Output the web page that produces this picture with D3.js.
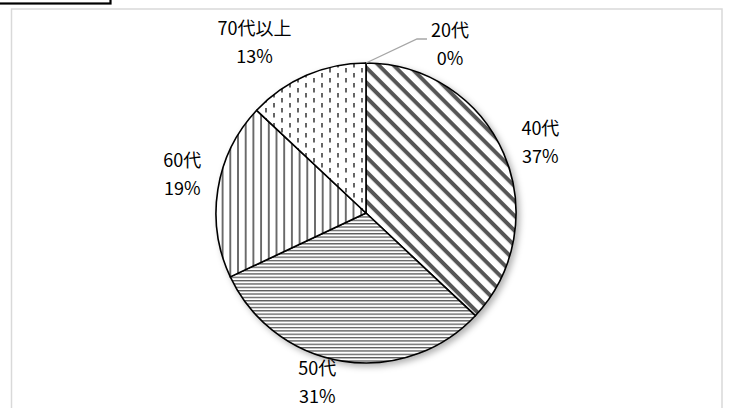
<!DOCTYPE html>
<html><head><meta charset="utf-8">
<script src="https://cdn.jsdelivr.net/npm/d3@7"></script>
<style>body{margin:0;background:#fff}svg{display:block}</style>
</head><body>
<svg id="c" width="729" height="408"></svg>
<script>
const categories = ["20代", "40代", "50代", "60代", "70代以上"];
const values = [0, 37, 31, 19, 13];
const pctLabels = ["0%", "37%", "31%", "19%", "13%"];

const W = 729, H = 408;
const cx = 366, cy = 213, R = 150, labelR = 190;
const patternIds = ["pNone", "pDiag", "pHoriz", "pVert", "pDash"];
// small layout nudges for label blocks (styling, not data)
const nudge = {"20代": [84, 20], "40代": [0, 3], "50代": [-19, -20], "60代": [4, -10], "70代以上": [-36, 2]};

const svg = d3.select("#c");
const defs = svg.append("defs");

function pat(id, w, h, transform) {
  const p = defs.append("pattern").attr("id", id).attr("patternUnits", "userSpaceOnUse")
    .attr("width", w).attr("height", h);
  if (transform) p.attr("patternTransform", transform);
  p.append("rect").attr("width", w).attr("height", h).attr("fill", "#fff");
  return p;
}
pat("pNone", 4, 4);
pat("pDiag", 10.5, 10.5, "rotate(45)").append("rect").attr("y", 0).attr("width", 10.5).attr("height", 4).attr("fill", "#575757");
pat("pHoriz", 10, 3.35).append("rect").attr("width", 10).attr("height", 1.3).attr("fill", "#5a5a5a");
pat("pVert", 7.7, 10).append("rect").attr("x", 2).attr("width", 1.8).attr("height", 10).attr("fill", "#606060");
const pd = pat("pDash", 16, 10);
pd.append("rect").attr("x", 3).attr("y", 0).attr("width", 2).attr("height", 4.5).attr("fill", "#666");
pd.append("rect").attr("x", 11).attr("y", 5).attr("width", 2).attr("height", 4.5).attr("fill", "#666");

const f = defs.append("filter").attr("id", "sh").attr("x", "-20%").attr("y", "-20%").attr("width", "140%").attr("height", "140%");
f.append("feDropShadow").attr("dx", 3).attr("dy", 3).attr("stdDeviation", 3).attr("flood-color", "#000").attr("flood-opacity", 0.3);

// top-left box fragment and chart frame
svg.append("rect").attr("x", -10).attr("y", -20).attr("width", 120.5).attr("height", 23.5)
  .attr("fill", "none").attr("stroke", "#000").attr("stroke-width", 2.2);
svg.append("rect").attr("x", 11.5).attr("y", 9).attr("width", 710.5).attr("height", 420)
  .attr("fill", "#fff").attr("stroke", "#d9d9d9").attr("stroke-width", 1.5);

const data = categories.map((c, i) => ({cat: c, v: values[i], pct: pctLabels[i], pat: patternIds[i]}));
const pie = d3.pie().sort(null).value(d => d.v);
const arcs = pie(data);
const arc = d3.arc().innerRadius(0).outerRadius(R);
const lArc = d3.arc().innerRadius(labelR).outerRadius(labelR);

const g = svg.append("g").attr("transform", `translate(${cx},${cy})`);
const sg = g.append("g").attr("filter", "url(#sh)");
sg.selectAll("path").data(arcs).join("path")
  .attr("d", arc)
  .attr("fill", d => `url(#${d.data.pat})`)
  .attr("stroke", "#000").attr("stroke-width", 1.6).attr("stroke-linejoin", "round");

// leader line for 20代
const zero = arcs.find(d => d.data.v === 0);
if (zero) {
  const a = zero.startAngle;
  const p0 = [R * Math.sin(a), -R * Math.cos(a)];
  const [lx, ly] = lArc.centroid(zero);
  const n = nudge[zero.data.cat];
  const tx = lx + n[0], ty = ly + n[1];
  g.append("polyline")
    .attr("points", [p0, [tx - 33, ty - 4], [tx - 23, ty - 4]].map(p => p.join(",")).join(" "))
    .attr("fill", "none").attr("stroke", "#a6a6a6").attr("stroke-width", 1.3);
}

const lab = g.selectAll("g.lab").data(arcs).join("g").attr("class", "lab")
  .attr("transform", d => {
    const [x, y] = lArc.centroid(d);
    const n = nudge[d.data.cat] || [0, 0];
    return `translate(${x + n[0]},${y + n[1]})`;
  });
lab.append("text").attr("y", -14).text(d => d.data.cat);
lab.append("text").attr("y", 14).text(d => d.data.pct);
lab.selectAll("text").attr("text-anchor", "middle").attr("dominant-baseline", "central")
  .attr("font-family", "'Noto Sans CJK JP', sans-serif").attr("font-size", 18).attr("fill", "#000");
</script>
</body></html>
